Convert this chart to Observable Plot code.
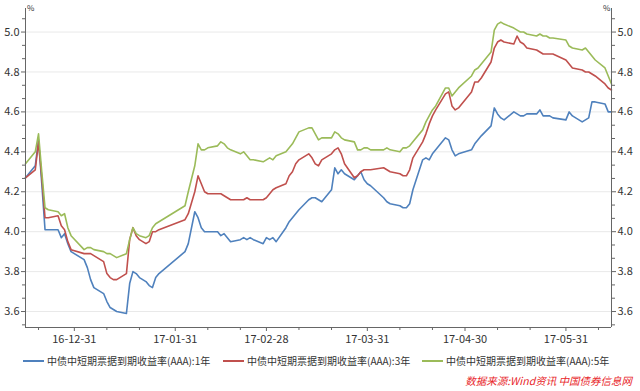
<!DOCTYPE html>
<html>
<head>
<meta charset="utf-8">
<script src="https://cdn.jsdelivr.net/npm/d3@7"></script>
<script src="https://cdn.jsdelivr.net/npm/@observablehq/plot@0.6"></script>
<style>
  body { margin: 0; background: #fff; }
  #wrap { position: relative; width: 640px; height: 391px; overflow: hidden;
          font-family: "Noto Sans CJK SC", "Noto Sans", sans-serif; color: #333; }
  #chart { position: absolute; left: 0; top: 0; }
  .pct { position: absolute; top: 2px; font-size: 8px; color: #333; }
  .leg { position: absolute; top: 353px; display: flex; align-items: center; font-size: 10px; white-space: nowrap; color: #333; }
  .leg i { display: inline-block; width: 21px; height: 2px; margin-right: 3px; }
  #src { position: absolute; right: 8px; top: 373px; font-size: 10.5px; font-style: italic; color: #e8262a; white-space: nowrap; }
</style>
</head>
<body>
<div id="wrap">
  <div id="chart"></div>
</div>
<script>
// ---- data ----
const dates = [
  "2016-12-16","2016-12-19","2016-12-20","2016-12-21","2016-12-22","2016-12-23","2016-12-26","2016-12-27","2016-12-28","2016-12-29",
  "2016-12-30","2017-01-03","2017-01-04","2017-01-05","2017-01-06","2017-01-09","2017-01-10","2017-01-11","2017-01-12","2017-01-13",
  "2017-01-16","2017-01-17","2017-01-18","2017-01-19","2017-01-20","2017-01-22","2017-01-23","2017-01-24","2017-01-25","2017-01-26",
  "2017-02-03","2017-02-04","2017-02-06","2017-02-07","2017-02-08","2017-02-09","2017-02-10","2017-02-13","2017-02-14","2017-02-15",
  "2017-02-16","2017-02-17","2017-02-20","2017-02-21","2017-02-22","2017-02-23","2017-02-24","2017-02-27","2017-02-28","2017-03-01",
  "2017-03-02","2017-03-03","2017-03-06","2017-03-07","2017-03-08","2017-03-09","2017-03-10","2017-03-13","2017-03-14","2017-03-15",
  "2017-03-16","2017-03-17","2017-03-20","2017-03-21","2017-03-22","2017-03-23","2017-03-24","2017-03-27","2017-03-28","2017-03-29",
  "2017-03-30","2017-03-31","2017-04-01","2017-04-05","2017-04-06","2017-04-07","2017-04-10","2017-04-11","2017-04-12","2017-04-13",
  "2017-04-14","2017-04-17","2017-04-18","2017-04-19","2017-04-20","2017-04-21","2017-04-24","2017-04-25","2017-04-26","2017-04-27",
  "2017-04-28","2017-05-02","2017-05-03","2017-05-04","2017-05-05","2017-05-08","2017-05-09","2017-05-10","2017-05-11","2017-05-12",
  "2017-05-15","2017-05-16","2017-05-17","2017-05-18","2017-05-19","2017-05-22","2017-05-23","2017-05-24","2017-05-25","2017-05-26",
  "2017-05-27","2017-05-31","2017-06-01","2017-06-02","2017-06-05","2017-06-06","2017-06-07","2017-06-08","2017-06-09","2017-06-12",
  "2017-06-13","2017-06-14"
];
const yield1Y = [
  4.27,4.33,4.46,4.24,4.01,4.01,4.01,3.97,3.99,3.94,
  3.90,3.86,3.82,3.76,3.72,3.69,3.65,3.62,3.61,3.60,
  3.59,3.74,3.80,3.79,3.77,3.75,3.73,3.72,3.77,3.79,
  3.90,3.94,4.10,4.07,4.02,4.00,4.00,4.00,3.98,3.99,
  3.97,3.95,3.96,3.97,3.96,3.97,3.96,3.94,3.97,3.96,
  3.97,3.95,4.02,4.05,4.07,4.09,4.11,4.16,4.17,4.17,
  4.16,4.15,4.21,4.32,4.29,4.31,4.29,4.26,4.28,4.30,
  4.26,4.24,4.23,4.17,4.15,4.14,4.13,4.12,4.12,4.14,
  4.21,4.36,4.37,4.36,4.39,4.41,4.47,4.46,4.41,4.38,
  4.39,4.41,4.44,4.46,4.48,4.53,4.62,4.59,4.57,4.56,
  4.60,4.59,4.58,4.58,4.59,4.59,4.61,4.58,4.58,4.58,
  4.57,4.56,4.60,4.58,4.55,4.56,4.57,4.65,4.65,4.64,
  4.60,4.60
];
const yield3Y = [
  4.27,4.31,4.45,4.27,4.07,4.07,4.08,4.03,4.01,3.95,
  3.91,3.89,3.89,3.89,3.88,3.85,3.79,3.77,3.76,3.76,
  3.79,3.96,4.02,3.98,3.96,3.94,3.95,4.00,4.00,4.01,
  4.06,4.09,4.20,4.28,4.24,4.20,4.19,4.19,4.19,4.18,
  4.17,4.16,4.16,4.16,4.17,4.16,4.16,4.16,4.17,4.19,
  4.21,4.22,4.24,4.28,4.30,4.34,4.36,4.39,4.37,4.34,
  4.33,4.36,4.39,4.41,4.42,4.39,4.34,4.27,4.28,4.30,
  4.31,4.31,4.31,4.32,4.31,4.30,4.29,4.28,4.28,4.31,
  4.37,4.45,4.49,4.54,4.58,4.61,4.69,4.70,4.63,4.61,
  4.62,4.70,4.75,4.75,4.77,4.85,4.92,4.95,4.96,4.95,
  4.94,4.98,4.95,4.94,4.92,4.91,4.90,4.89,4.89,4.89,
  4.89,4.86,4.84,4.82,4.81,4.80,4.80,4.79,4.78,4.74,
  4.72,4.71
];
const yield5Y = [
  4.34,4.40,4.49,4.30,4.12,4.11,4.10,4.08,4.09,4.02,
  3.98,3.91,3.92,3.92,3.91,3.90,3.89,3.89,3.88,3.87,
  3.89,3.96,4.02,3.99,3.98,3.97,3.98,4.02,4.04,4.05,
  4.13,4.20,4.33,4.44,4.41,4.41,4.42,4.43,4.45,4.44,
  4.42,4.41,4.39,4.40,4.38,4.36,4.36,4.35,4.36,4.37,
  4.36,4.38,4.40,4.42,4.44,4.47,4.50,4.52,4.52,4.49,
  4.46,4.47,4.47,4.50,4.49,4.47,4.46,4.45,4.41,4.41,
  4.42,4.42,4.41,4.41,4.42,4.41,4.40,4.42,4.42,4.43,
  4.45,4.51,4.55,4.58,4.61,4.63,4.72,4.72,4.68,4.70,
  4.72,4.78,4.81,4.82,4.84,4.90,5.01,5.04,5.05,5.04,
  5.02,5.01,5.00,5.00,4.99,4.98,4.99,4.98,4.98,4.97,
  4.97,4.96,4.93,4.92,4.91,4.92,4.90,4.88,4.86,4.82,
  4.78,4.74
];
const seriesNames = [
  "中债中短期票据到期收益率(AAA):1年",
  "中债中短期票据到期收益率(AAA):3年",
  "中债中短期票据到期收益率(AAA):5年"
];
const seriesColors = ["#4f81bd", "#c0504d", "#9bbb59"];
const yMajorTicks = [3.6, 3.8, 4.0, 4.2, 4.4, 4.6, 4.8, 5.0];
const yMinorTicks = [3.5333, 3.6667, 3.7333, 3.8667, 3.9333, 4.0667, 4.1333, 4.2667, 4.3333,
                     4.4667, 4.5333, 4.6667, 4.7333, 4.8667, 4.9333, 5.0667];
const xMajorTicks = ["2016-12-31", "2017-01-31", "2017-02-28", "2017-03-31", "2017-04-30", "2017-05-31"];
const xMinorTicks = ["2016-12-20", "2017-01-10", "2017-01-20", "2017-02-10", "2017-02-20", "2017-03-10",
                     "2017-03-20", "2017-04-10", "2017-04-20", "2017-05-10", "2017-05-20", "2017-06-10"];
const xDomain = ["2016-12-16", "2017-06-14"];
const yDomain = [3.52, 5.118];
const unitLabel = "%";
const sourceText = "数据来源:Wind资讯 中国债券信息网";

// ---- build ----
const parse = d3.utcParse("%Y-%m-%d");
const rows = [];
[yield1Y, yield3Y, yield5Y].forEach((arr, s) => {
  arr.forEach((v, i) => rows.push({date: parse(dates[i]), value: v, series: seriesNames[s]}));
});
const xd = xDomain.map(parse);
const fmtDate = d3.utcFormat("%y-%m-%d");

const chart = Plot.plot({
  width: 640,
  height: 352,
  marginLeft: 25,
  marginRight: 29,
  marginTop: 8,
  marginBottom: 25,
  style: {fontFamily: '"Noto Sans CJK SC", "Noto Sans", sans-serif', fontSize: "11px", color: "#333", background: "transparent"},
  x: {type: "utc", domain: xd},
  y: {domain: yDomain},
  color: {domain: seriesNames, range: seriesColors},
  marks: [
    Plot.ruleY(yMajorTicks, {stroke: "#e9e9e9", strokeWidth: 1}),
    Plot.line(rows, {x: "date", y: "value", z: "series", stroke: "series", strokeWidth: 1.6, curve: "linear"}),
    Plot.ruleX(xd, {stroke: "#666", strokeWidth: 1}),
    Plot.ruleY([yDomain[0]], {stroke: "#666", strokeWidth: 1}),
    Plot.axisY({anchor: "left", ticks: yMajorTicks, tickSize: 4, tickPadding: 2, tickFormat: d3.format(".1f"), label: null, stroke: "#666", fill: "#333", fontSize: 11}),
    Plot.axisY({anchor: "left", ticks: yMinorTicks, tickSize: 3, tickFormat: () => "", label: null, stroke: "#666"}),
    Plot.axisY({anchor: "right", ticks: yMajorTicks, tickSize: 4, tickPadding: 2, tickFormat: d3.format(".1f"), label: null, stroke: "#666", fill: "#333", fontSize: 11}),
    Plot.axisY({anchor: "right", ticks: yMinorTicks, tickSize: 3, tickFormat: () => "", label: null, stroke: "#666"}),
    Plot.axisX({anchor: "bottom", ticks: xMajorTicks.map(parse), tickSize: 4, tickPadding: 4, tickFormat: fmtDate, label: null, stroke: "#666", fill: "#333", fontSize: 11}),
    Plot.axisX({anchor: "bottom", ticks: xMinorTicks.map(parse), tickSize: 3, tickFormat: () => "", label: null, stroke: "#666"})
  ]
});
document.getElementById("chart").appendChild(chart);

const wrap = document.getElementById("wrap");
function addDiv(cls, text, style) {
  const d = document.createElement("div");
  d.className = cls; d.textContent = text; Object.assign(d.style, style || {});
  wrap.appendChild(d); return d;
}
addDiv("pct", unitLabel, {left: "27px"});
addDiv("pct", unitLabel, {left: "603px"});

const legendLeft = [23, 223, 422];
seriesNames.forEach((name, i) => {
  const item = document.createElement("div");
  item.className = "leg";
  item.style.left = legendLeft[i] + "px";
  const sw = document.createElement("i");
  sw.style.background = seriesColors[i];
  item.appendChild(sw);
  const t = document.createElement("span");
  t.textContent = name;
  item.appendChild(t);
  wrap.appendChild(item);
});
const src = addDiv("", sourceText);
src.id = "src";
</script>
</body>
</html>
